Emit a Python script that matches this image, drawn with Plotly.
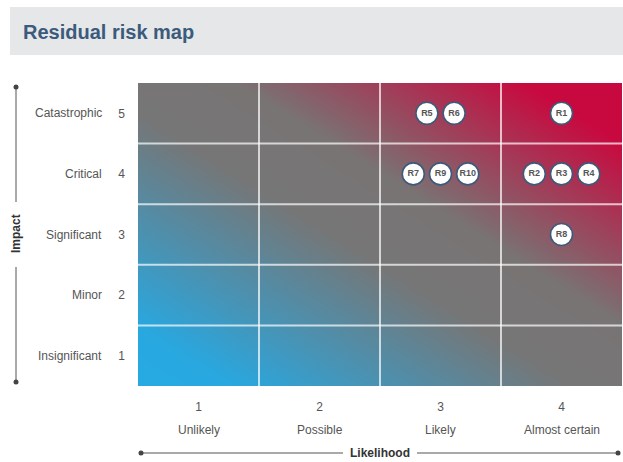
import numpy as np
import plotly.graph_objects as go

# ---- data ----
likelihood_labels = ["Unlikely", "Possible", "Likely", "Almost certain"]
likelihood_values = [1, 2, 3, 4]
impact_labels = ["Insignificant", "Minor", "Significant", "Critical", "Catastrophic"]
impact_values = [1, 2, 3, 4, 5]

risk_ids = ["R1", "R2", "R3", "R4", "R5", "R6", "R7", "R8", "R9", "R10"]
risk_likelihood = [4, 4, 4, 4, 3, 3, 3, 4, 3, 3]
risk_impact = [5, 4, 4, 4, 5, 5, 4, 3, 4, 4]

# ---- layout geometry ----
W, H = 623, 462
L, R, T, B = 138, 1, 83, 76
PW, PH = W - L - R, H - T - B

def px(x):
    return (x - L) / PW

def py(y):
    return 1 - (y - T) / PH

TXT = "#555555"
FONT = "Liberation Sans, Arial, sans-serif"

fig = go.Figure()

# background diagonal gradient
gx = np.linspace(0.5, 4.5, 121)
gy = np.linspace(0.5, 5.5, 121)
U, V = np.meshgrid((gx - 0.5) / 4, (gy - 0.5) / 5)
G = (U + V) / 2
fig.add_trace(go.Heatmap(
    x=gx, y=gy, z=G, zmin=0, zmax=1, zsmooth="best", showscale=False,
    hoverinfo="skip",
    colorscale=[[0, "#26aae2"], [0.1, "#29a7df"], [0.45, "#767676"], [0.6, "#787474"],
                [0.9, "#c8093f"], [1, "#c8093f"]],
))

# risk markers, spread within their cell
spacing = 0.225
groups = {}
for rid, lx, iy in zip(risk_ids, risk_likelihood, risk_impact):
    groups.setdefault((lx, iy), []).append(rid)
mx, my, mt = [], [], []
for (lx, iy), ids in groups.items():
    ids = sorted(ids, key=lambda s: int(s[1:]))
    n = len(ids)
    for i, rid in enumerate(ids):
        mx.append(lx + (i - (n - 1) / 2) * spacing)
        my.append(iy)
        mt.append(rid)
fig.add_trace(go.Scatter(
    x=mx, y=my, text=mt, mode="markers+text", textposition="middle center",
    marker=dict(size=22, color="white", line=dict(color="#3d5a7a", width=1.6)),
    textfont=dict(family="Liberation Sans Narrow, Liberation Sans, Arial", size=9,
                  color="#555555", weight="bold"),
    hoverinfo="skip", showlegend=False, cliponaxis=False,
))

shapes = []
# cell boundaries
for v in [1.5, 2.5, 3.5]:
    shapes.append(dict(type="line", xref="x", yref="paper", x0=v, x1=v, y0=0, y1=1,
                       line=dict(color="rgba(255,255,255,0.7)", width=2), layer="above"))
for v in [1.5, 2.5, 3.5, 4.5]:
    shapes.append(dict(type="line", xref="paper", yref="y", x0=0, x1=1, y0=v, y1=v,
                       line=dict(color="rgba(255,255,255,0.7)", width=2), layer="above"))
# title band
shapes.append(dict(type="rect", xref="paper", yref="paper", x0=px(10), x1=px(623),
                   y0=py(55), y1=py(7), fillcolor="#e6e7e9", line=dict(width=0), layer="below"))
# impact axis line
for y0, y1 in [(87, 202), (267, 382)]:
    shapes.append(dict(type="line", xref="paper", yref="paper", x0=px(16), x1=px(16),
                       y0=py(y0), y1=py(y1), line=dict(color=TXT, width=1)))
# likelihood axis line
for x0, x1 in [(141, 343), (417, 618)]:
    shapes.append(dict(type="line", xref="paper", yref="paper", x0=px(x0), x1=px(x1),
                       y0=py(453), y1=py(453), line=dict(color=TXT, width=1)))
# end dots
r = 2.5
for cx, cy in [(16, 87), (16, 382), (141, 453), (618, 453)]:
    shapes.append(dict(type="circle", xref="paper", yref="paper",
                       x0=px(cx - r), x1=px(cx + r), y0=py(cy + r), y1=py(cy - r),
                       fillcolor="#444444", line=dict(width=0)))

annotations = []
annotations.append(dict(text="<b>Residual risk map</b>", xref="paper", yref="paper",
                        x=px(21), y=py(32), xanchor="left", yanchor="middle", showarrow=False,
                        font=dict(family=FONT, size=20, color="#3b5b7c")))
for v, lab in zip(impact_values, impact_labels):
    annotations.append(dict(text=lab, xref="paper", yref="y", x=px(104), y=v,
                            xanchor="right", yanchor="middle", showarrow=False,
                            font=dict(family=FONT, size=12, color=TXT)))
for v, lab in zip(likelihood_values, likelihood_labels):
    annotations.append(dict(text=lab, xref="x", yref="paper", x=v, y=py(430),
                            xanchor="center", yanchor="middle", showarrow=False,
                            font=dict(family=FONT, size=12, color=TXT)))
annotations.append(dict(text="<b>Impact</b>", xref="paper", yref="paper", x=px(16), y=py(234),
                        xanchor="center", yanchor="middle", showarrow=False, textangle=-90,
                        font=dict(family=FONT, size=12, color="#333333")))
annotations.append(dict(text="<b>Likelihood</b>", xref="paper", yref="paper", x=px(380), y=py(453),
                        xanchor="center", yanchor="middle", showarrow=False,
                        font=dict(family=FONT, size=12, color="#333333")))

fig.update_layout(
    width=W, height=H, margin=dict(l=L, r=R, t=T, b=B),
    paper_bgcolor="white", plot_bgcolor="white",
    shapes=shapes, annotations=annotations, showlegend=False,
    xaxis=dict(range=[0.5, 4.5], tickvals=likelihood_values,
               ticktext=[str(v) for v in likelihood_values], showgrid=False, zeroline=False,
               showline=False, ticks="", ticklabelstandoff=12,
               tickfont=dict(family=FONT, size=12, color=TXT), fixedrange=True),
    yaxis=dict(range=[0.5, 5.5], tickvals=impact_values,
               ticktext=[str(v) for v in impact_values], showgrid=False, zeroline=False,
               showline=False, ticks="", ticklabelstandoff=12,
               tickfont=dict(family=FONT, size=12, color=TXT), fixedrange=True),
)

fig.write_html("out.html")
